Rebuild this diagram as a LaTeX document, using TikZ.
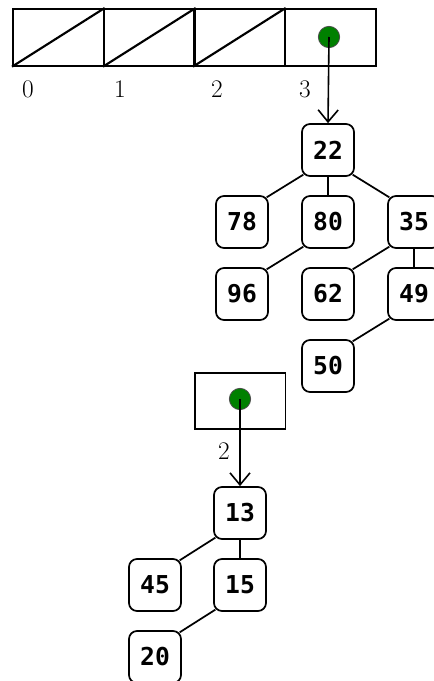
\documentclass[tikz,border=0pt]{standalone}
\usepackage{fontspec}
\usetikzlibrary{arrows.meta,calc}
\newfontfamily\monob{DejaVu Sans Mono}
\begin{document}
\begin{tikzpicture}[x=0.75pt,y=-0.75pt,
  cell/.style={draw,line width=1.5pt,minimum width=68pt,minimum height=42.5pt,inner sep=0pt,anchor=north west},
  tnode/.style={draw,line width=1.3pt,rounded corners=6pt,minimum size=39pt,inner sep=0pt,font=\monob\bfseries\fontsize{18.5}{20}\selectfont},
  lab/.style={font=\fontsize{19}{21}\selectfont,inner sep=0pt},
  dot/.style={circle,fill=green!50!black,draw=black!70,line width=0.6pt,minimum size=16pt,inner sep=0pt},
  edge/.style={line width=1.3pt},
  ptr/.style={line width=1.2pt,-{Straight Barb[length=9pt,width=15pt,line width=1.2pt]}}
]
\useasboundingbox (0,0) rectangle (433,681);
% array
\node[cell] (c0) at (12,8) {};
\node[cell] (c1) at (103,8) {};
\node[cell] (c2) at (193,8) {};
\node[cell] (c3) at (284,8) {};
\draw[line width=1.6pt] (c0.south west) -- (c0.north east);
\draw[line width=1.6pt] (c1.south west) -- (c1.north east);
\draw[line width=1.6pt] (c2.south west) -- (c2.north east);
\node[lab] (l0) at (28,89) {0};
\node[lab] (l1) at (120,89) {1};
\node[lab] (l2) at (217,89) {2};
\node[lab] (l3) at (305,89) {3};
\node[dot] (d1) at (329,37) {};
% tree 1
\node[tnode] (n22) at (328,150) {22};
\node[tnode] (n78) at (242,222) {78};
\node[tnode] (n80) at (328,222) {80};
\node[tnode] (n35) at (414,222) {35};
\node[tnode] (n96) at (242,294) {96};
\node[tnode] (n62) at (328,294) {62};
\node[tnode] (n49) at (414,294) {49};
\node[tnode] (n50) at (328,366) {50};
\draw[ptr] (d1.center) -- (n22.north);
\draw[edge] ($(n22.south west)+(2.2,-2.2)$) -- ($(n78.north east)+(-2.2,2.2)$);
\draw[edge] (n22.south) -- (n80.north);
\draw[edge] ($(n22.south east)+(-2.2,-2.2)$) -- ($(n35.north west)+(2.2,2.2)$);
\draw[edge] ($(n80.south west)+(2.2,-2.2)$) -- ($(n96.north east)+(-2.2,2.2)$);
\draw[edge] ($(n35.south west)+(2.2,-2.2)$) -- ($(n62.north east)+(-2.2,2.2)$);
\draw[edge] (n35.south) -- (n49.north);
\draw[edge] ($(n49.south west)+(2.2,-2.2)$) -- ($(n50.north east)+(-2.2,2.2)$);
% second box
\node[draw,line width=1.3pt,minimum width=68pt,minimum height=42pt,inner sep=0pt,anchor=north west] (b2) at (194,372) {};
\node[dot] (d2) at (240,399) {};
\node[tnode] (n13) at (240,513) {13};
\node[tnode] (n45) at (155,585) {45};
\node[tnode] (n15) at (240,585) {15};
\node[tnode] (n20) at (155,657) {20};
\draw[ptr] (d2.center) -- node[lab,left=7pt,pos=0.6] (l4) {2} (n13.north);
\draw[edge] ($(n13.south west)+(2.2,-2.2)$) -- ($(n45.north east)+(-2.2,2.2)$);
\draw[edge] (n13.south) -- (n15.north);
\draw[edge] ($(n15.south west)+(2.2,-2.2)$) -- ($(n20.north east)+(-2.2,2.2)$);
\end{tikzpicture}
\end{document}
